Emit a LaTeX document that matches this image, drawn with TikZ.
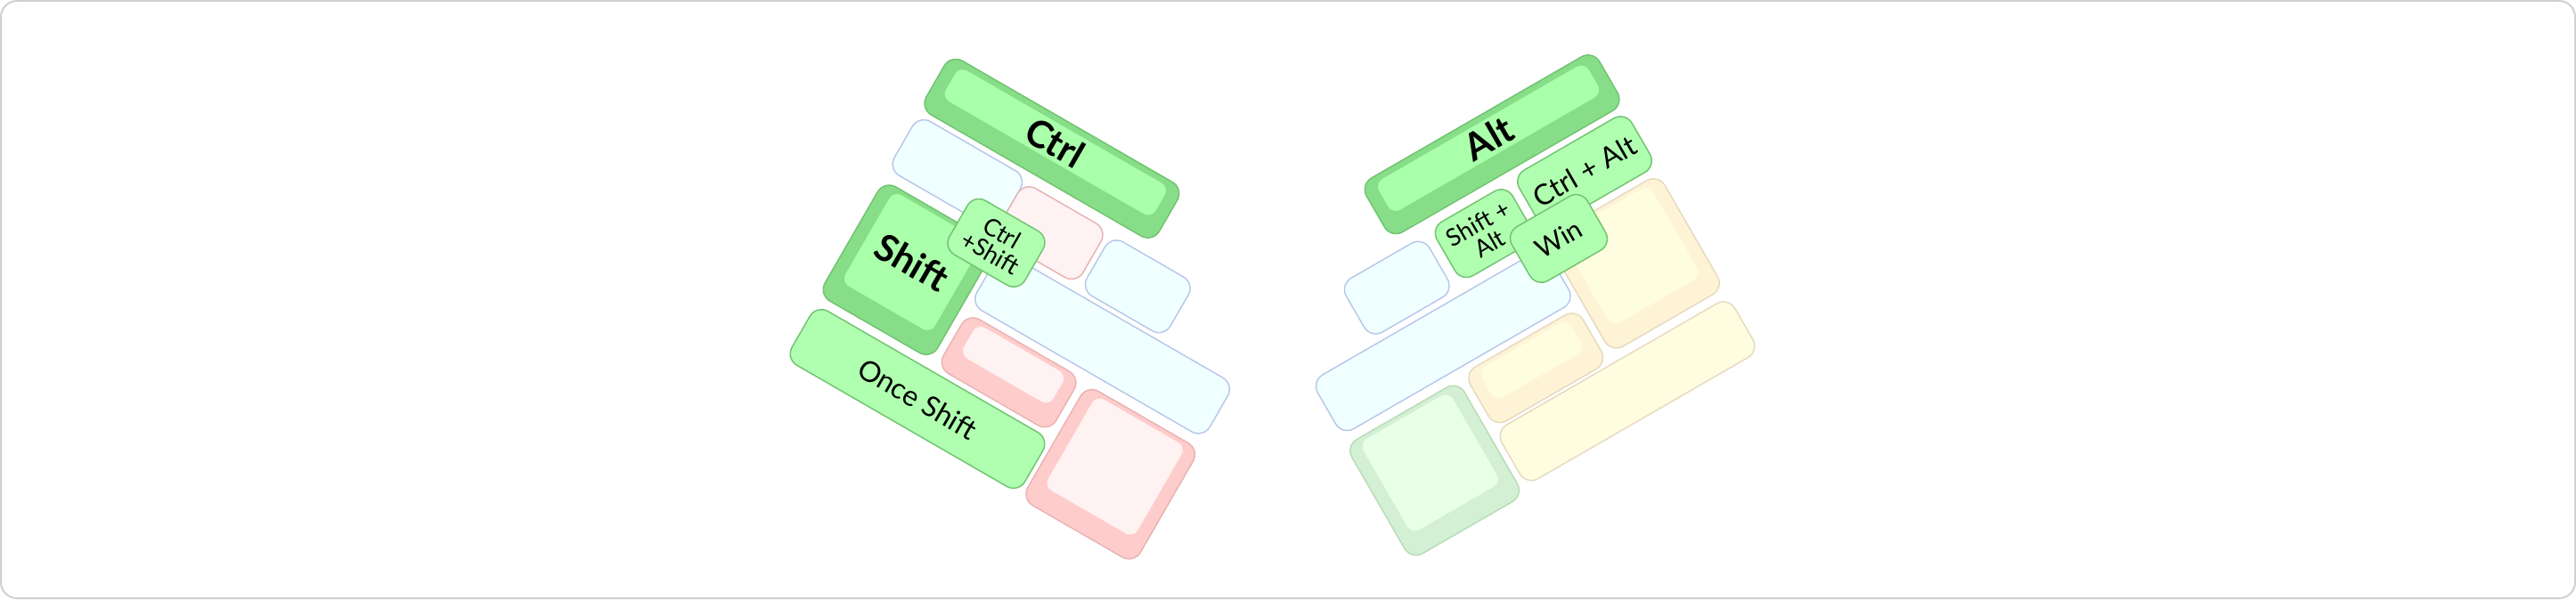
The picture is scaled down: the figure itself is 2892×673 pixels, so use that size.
\documentclass[tikz,border=0pt]{standalone}
\usepackage{fontspec}
\setmainfont{Lato}

\definecolor{framegray}{HTML}{D0D0D0}
\definecolor{grnside}{HTML}{88DD88}
\definecolor{grntop}{HTML}{AAFFAA}
\definecolor{grnline}{HTML}{72C472}
\definecolor{grnflat}{HTML}{B0FFB0}
\definecolor{lbflat}{HTML}{F0FFFF}
\definecolor{lbline}{HTML}{B8C8EA}
\definecolor{pkside}{HTML}{FFCCCC}
\definecolor{pktop}{HTML}{FFF2F2}
\definecolor{pkflat}{HTML}{FFF2F2}
\definecolor{pkline}{HTML}{E8B4B4}
\definecolor{ylside}{HTML}{FFF3D6}
\definecolor{yltop}{HTML}{FFFDE0}
\definecolor{ylflat}{HTML}{FFFDE0}
\definecolor{ylline}{HTML}{E6DAC0}
\definecolor{lgside}{HTML}{D4F0D4}
\definecolor{lgtop}{HTML}{E8FFE8}
\definecolor{lgline}{HTML}{B8DCB8}

\tikzset{
  keyside/.style={draw=#1line, fill=#1side, line width=1.5pt, rounded corners=15pt, inner sep=0pt},
  keytop/.style={fill=#1top, rounded corners=10pt, inner sep=0pt, align=center},
  keyflat/.style={draw=#1line, fill=#1flat, line width=1.5pt, rounded corners=15pt, inner sep=0pt, align=center},
  bigtxt/.style={font=\fontsize{42}{46}\selectfont\bfseries},
  midtxt/.style={font=\fontsize{32}{36}\selectfont},
  smalltxt/.style={font=\fontsize{27}{26}\selectfont},
}

\begin{document}
\begin{tikzpicture}[x=1pt,y=1pt]
  \useasboundingbox (0,0) rectangle (2892,673);
  \draw[draw=framegray, line width=2pt, rounded corners=18pt] (1,1) rectangle (2891,672);

  \begin{scope}[shift={(1049.2,582.2)}, rotate=-30, transform shape]
    \node[keyside=grn, minimum width=302pt, minimum height=70pt] (ctrl) at (152,0) {};
    \node[keytop=grn, minimum width=272pt, minimum height=40pt, bigtxt] (ctrl top) at (152,8) {Ctrl};
    \node[keyflat=lb, minimum width=140pt, minimum height=70pt] (lb a) at (74,-77) {};
    \node[keyflat=pk, minimum width=108pt, minimum height=70pt] (pk a) at (198,-83) {};
    \node[keyflat=lb, minimum width=108pt, minimum height=70pt] (lb b) at (313,-86) {};
    \node[keyside=grn, minimum width=146pt, minimum height=148pt] (shift) at (80,-199) {};
    \node[keytop=grn, minimum width=116pt, minimum height=118pt, bigtxt] (shift top) at (80,-189) {Shift};
    \node[keyflat=lb, minimum width=302pt, minimum height=70pt] (lb c) at (311,-162) {};
    \node[keyside=pk, minimum width=146pt, minimum height=70pt] (pk b) at (236,-242) {};
    \node[keytop=pk, minimum width=116pt, minimum height=40pt] (pk b top) at (236,-232) {};
    \node[keyside=pk, minimum width=146pt, minimum height=148pt] (pk c) at (392,-284) {};
    \node[keytop=pk, minimum width=116pt, minimum height=118pt] (pk c top) at (392,-274) {};
    \node[keyflat=grn, minimum width=302pt, minimum height=70pt, midtxt] (once) at (162,-319) {Once Shift};
    \node[keyflat=grn, minimum width=98pt, minimum height=70pt, smalltxt] (ctrl shift) at (151,-123) {Ctrl\\+Shift};
  \end{scope}

  \begin{scope}[shift={(1806.7,586.8)}, rotate=30, transform shape]
    \node[keyside=grn, minimum width=302pt, minimum height=70pt] (alt) at (-152,0) {};
    \node[keytop=grn, minimum width=272pt, minimum height=40pt, bigtxt] (alt top) at (-152,8) {Alt};
    \node[keyflat=grn, minimum width=146pt, minimum height=70pt, midtxt] (ctrl alt) at (-77,-78) {Ctrl + Alt};
    \node[keyflat=lb, minimum width=108pt, minimum height=70pt] (lb d) at (-325,-86) {};
    \node[keyflat=lb, minimum width=302pt, minimum height=70pt] (lb e) at (-310,-164) {};
    \node[keyside=yl, minimum width=146pt, minimum height=148pt] (yl a) at (-80,-196) {};
    \node[keytop=yl, minimum width=116pt, minimum height=118pt] (yl a top) at (-80,-186) {};
    \node[keyside=yl, minimum width=146pt, minimum height=70pt] (yl b) at (-235,-242) {};
    \node[keytop=yl, minimum width=116pt, minimum height=40pt] (yl b top) at (-235,-232) {};
    \node[keyside=lg, minimum width=146pt, minimum height=148pt] (lg a) at (-391,-285) {};
    \node[keytop=lg, minimum width=116pt, minimum height=118pt] (lg a top) at (-391,-275) {};
    \node[keyflat=yl, minimum width=302pt, minimum height=70pt] (yl c) at (-159,-316) {};
    \node[keyflat=grn, minimum width=98pt, minimum height=70pt, smalltxt] (shift alt) at (-210,-82) {Shift +\\Alt};
    \node[keyflat=grn, minimum width=98pt, minimum height=70pt, font=\fontsize{30}{30}\selectfont] (win) at (-140,-129) {Win};
  \end{scope}
\end{tikzpicture}
\end{document}
